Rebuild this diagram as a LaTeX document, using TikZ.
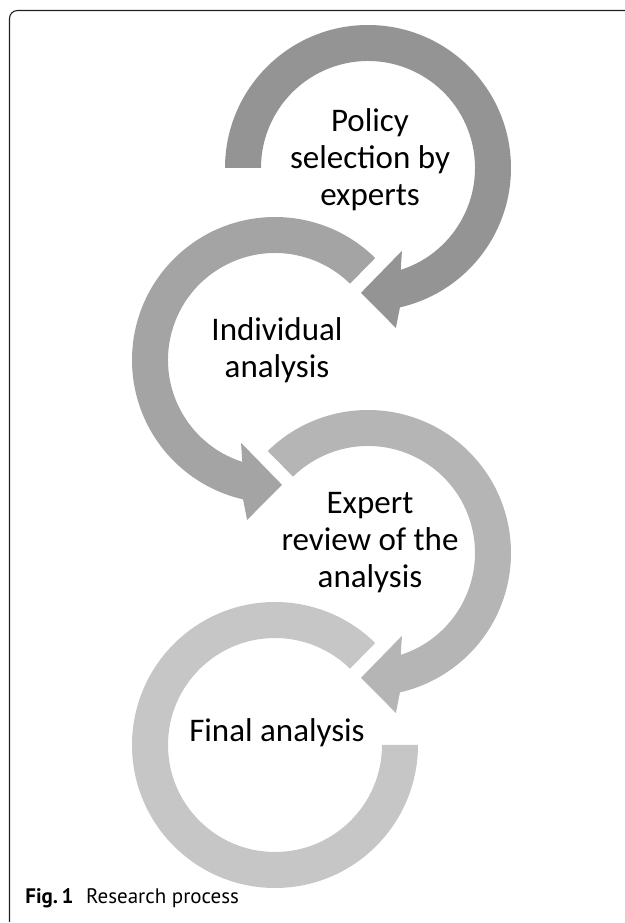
\documentclass[tikz,border=0pt]{standalone}
\usepackage{fontspec}
\setmainfont{Carlito}
\newfontfamily\capfont{PT Sans}
\usepackage{xcolor}
\definecolor{ringone}{HTML}{949494}
\definecolor{ringtwo}{HTML}{A4A4A4}
\definecolor{ringthree}{HTML}{B5B5B5}
\definecolor{ringfour}{HTML}{C6C6C6}
\definecolor{framegray}{HTML}{222222}
\usetikzlibrary{positioning}

\begin{document}
\begin{tikzpicture}[
		x=0.5pt, y=0.5pt,
		ringtext/.style={
			align=center,
			inner sep=0pt,
			font=\fontsize{16.5}{18.5}\selectfont,
		},
		frameline/.style={draw=framegray, line width=0.55pt, rounded corners=4pt},
	]
	\useasboundingbox (0,0) rectangle (625,923);
	\draw[frameline] (9.5,1) -- (9.5,912.5) -- (625,912.5);

	\coordinate (c1) at (368,755);
	\coordinate (c2) at (275,563);
	\coordinate (c3) at (368,370);
	\coordinate (c4) at (275,178);

	% rings, each one leading into the next
	\fill[ringone, shift={(c1)}] (180:143) arc[start angle=180, end angle=-77.1, radius=143]
		-- (-80.1:162.4) -- (-93.2:125) -- (-67.7:89.5) -- (-72.2:107)
		arc[start angle=-72.2, end angle=180, radius=107] -- cycle;
	\fill[ringtwo, shift={(c2)}] (45.5:143) arc[start angle=45.5, end angle=257.1, radius=143]
		-- (260.1:162.4) -- (273.2:125) -- (247.7:89.5) -- (252.2:107)
		arc[start angle=252.2, end angle=45.5, radius=107] -- cycle;
	\fill[ringthree, shift={(c3)}] (134.5:143) arc[start angle=134.5, end angle=-77.1, radius=143]
		-- (-80.1:162.4) -- (-93.2:125) -- (-67.7:89.5) -- (-72.2:107)
		arc[start angle=-72.2, end angle=134.5, radius=107] -- cycle;
	\fill[ringfour, shift={(c4)}] (45.5:143) arc[start angle=45.5, end angle=360, radius=143]
		-- (0:107) arc[start angle=360, end angle=45.5, radius=107] -- cycle;

	\node[ringtext] (policy) at (370,763) {Policy\\selection by\\experts};
	\node[ringtext] (individual) at (277,573) {Individual\\analysis};
	\node[ringtext] (review) at (370,380) {Expert\\review of the\\analysis};
	\node[ringtext] (final) at (277,190) {Final analysis};

	\node[anchor=base west, inner sep=0pt, font=\capfont\fontsize{10.5}{12}\selectfont] (caption) at (25,19)
		{\textbf{Fig.\,1}\hspace{0.6em}Research process};
\end{tikzpicture}
\end{document}
